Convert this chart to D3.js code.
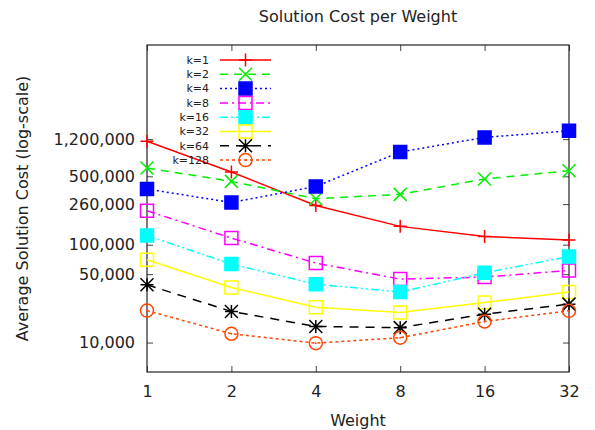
<!DOCTYPE html><html lang="en"><head><meta charset="utf-8">
<title>Solution Cost per Weight</title>
<script src="https://cdn.jsdelivr.net/npm/d3@7"></script>
<style>
body {
	margin: 0;
	background: #fff;
}
text {
	font-family: "DejaVu Sans", sans-serif;
	fill: #222;
}
</style>
</head>
<body>
<div id="chart"></div>
<script>
// values
const weights = [1, 2, 4, 8, 16, 32];
const k1 = [1140000, 554000, 252000, 154000, 121000, 112000];
const k2 = [608000, 444000, 295000, 327000, 470000, 571000];
const k4 = [371000, 270000, 394000, 887000, 1250000, 1460000];
const k8 = [222000, 117000, 64900, 44500, 46700, 54600];
const k16 = [124000, 63400, 39500, 32800, 51600, 75900];
const k32 = [70200, 36600, 23000, 20300, 25600, 32800];
const k64 = [38900, 20800, 14600, 14200, 19500, 24700];
const k128 = [21200, 12300, 9860, 11200, 16400, 21100];

const seriesNames = ["k=1", "k=2", "k=4", "k=8", "k=16", "k=32", "k=64", "k=128"];
const seriesValues = [k1, k2, k4, k8, k16, k32, k64, k128];
const yTicks = [10000, 50000, 100000, 260000, 500000, 1200000];

// look of each series (gnuplot-like)
const styles = [
	{ color: "#ff0000", dash: null, mark: "plus" },
	{ color: "#00ee00", dash: "8,6", mark: "cross" },
	{ color: "#0000ff", dash: "2,3", mark: "fsquare" },
	{ color: "#ff00ff", dash: "8,4,2,4", mark: "square" },
	{ color: "#00ffff", dash: "8,3,2,3,2,3", mark: "fsquare" },
	{ color: "#ffff00", dash: null, mark: "square" },
	{ color: "#000000", dash: "9,7", mark: "star" },
	{ color: "#ff4500", dash: "3,3", mark: "circle" },
];

const margin = { top: 45, right: 26, bottom: 58, left: 147 };
const W = 595, H = 430;
const width = W - margin.left - margin.right;
const height = H - margin.top - margin.bottom;

const svg = d3.select("#chart").append("svg")
	.attr("width", W)
	.attr("height", H);

svg.append("text")
	.attr("x", margin.left + width / 2)
	.attr("y", 22)
	.attr("text-anchor", "middle")
	.attr("font-size", 16)
	.text("Solution Cost per Weight");

svg.append("text")
	.attr("transform", `translate(28, ${margin.top + height / 2}) rotate(-90)`)
	.attr("text-anchor", "middle")
	.attr("font-size", 16)
	.text("Average Solution Cost (log-scale)");

svg.append("text")
	.attr("x", margin.left + width / 2)
	.attr("y", 426)
	.attr("text-anchor", "middle")
	.attr("font-size", 16)
	.text("Weight");

const g = svg.append("g")
	.attr("transform", `translate(${margin.left}, ${margin.top})`);

const x = d3.scaleLog().base(2)
	.domain([1, 32])
	.range([0, width]);
const y = d3.scaleLog()
	.domain([5000, 11000000])
	.range([height, 0]);

const fmt = d3.format(",");

// axes, ticks point inwards on all four sides
const styleAxis = (sel) => {
	sel.select(".domain").remove();
	sel.selectAll(".tick line").attr("stroke", "#444");
	sel.selectAll(".tick text").attr("font-size", 16).attr("fill", "#222");
};
g.append("g")
	.attr("transform", `translate(0, ${height})`)
	.call(d3.axisBottom(x).tickValues(weights).tickFormat(d3.format("d"))
		.tickSizeInner(-6).tickSizeOuter(0).tickPadding(13.5))
	.call(styleAxis);
g.append("g")
	.call(d3.axisTop(x).tickValues(weights).tickFormat("")
		.tickSizeInner(-6).tickSizeOuter(0))
	.call(styleAxis);
g.append("g")
	.call(d3.axisLeft(y).tickValues(yTicks).tickFormat(fmt)
		.tickSizeInner(-6).tickSizeOuter(0).tickPadding(12))
	.call(styleAxis);
g.append("g")
	.attr("transform", `translate(${width}, 0)`)
	.call(d3.axisRight(y).tickValues(yTicks).tickFormat("")
		.tickSizeInner(-6).tickSizeOuter(0))
	.call(styleAxis);

g.append("rect")
	.attr("width", width)
	.attr("height", height)
	.attr("fill", "none")
	.attr("stroke", "#222")
	.attr("stroke-width", 1.2);

// marker shapes
const markPath = (type, s) => {
	const h = s / 2;
	const plus = `M${-h},0H${h}M0,${-h}V${h}`;
	const cross = `M${-h},${-h}L${h},${h}M${-h},${h}L${h},${-h}`;
	if (type == "plus") return plus;
	if (type == "cross") return cross;
	if (type == "star") return plus + cross;
	return `M${-h},${-h}h${s}v${s}h${-s}Z`;
};
const drawMark = (sel, st) => {
	if (st.mark == "circle") {
		sel.append("circle").attr("r", 6.5)
			.attr("fill", "none").attr("stroke", st.color).attr("stroke-width", 1.5);
		sel.append("circle").attr("r", 0.9).attr("fill", st.color);
		return;
	}
	sel.append("path")
		.attr("d", markPath(st.mark, st.mark == "fsquare" || st.mark == "square" ? 13 : 13))
		.attr("fill", st.mark == "fsquare" ? st.color : "none")
		.attr("stroke", st.color)
		.attr("stroke-width", 1.5);
};

const line = d3.line()
	.x((d, i) => x(weights[i]))
	.y(d => y(d));

const legendX = 209, legendY = 60, legendStep = 14.3;

seriesValues.forEach((vals, si) => {
	const st = styles[si];
	// legend entry
	const ly = legendY + si * legendStep;
	g.append("text")
		.attr("x", legendX - margin.left)
		.attr("y", ly - margin.top)
		.attr("dy", "0.35em")
		.attr("text-anchor", "end")
		.attr("font-size", 11)
		.attr("fill", "#333")
		.text(seriesNames[si]);
	g.append("line")
		.attr("x1", 220 - margin.left).attr("x2", 271 - margin.left)
		.attr("y1", ly - margin.top).attr("y2", ly - margin.top)
		.attr("stroke", st.color)
		.attr("stroke-width", 1.5)
		.attr("stroke-dasharray", st.dash);
	g.append("g")
		.attr("transform", `translate(${245.5 - margin.left}, ${ly - margin.top})`)
		.call(drawMark, st);

	// the line
	g.append("path")
		.datum(vals)
		.attr("fill", "none")
		.attr("stroke", st.color)
		.attr("stroke-width", 1.5)
		.attr("stroke-dasharray", st.dash)
		.attr("d", line);

	// points
	vals.forEach((v, i) => {
		g.append("g")
			.attr("transform", `translate(${x(weights[i])}, ${y(v)})`)
			.call(drawMark, st);
	});
});
</script>
</body>
</html>
